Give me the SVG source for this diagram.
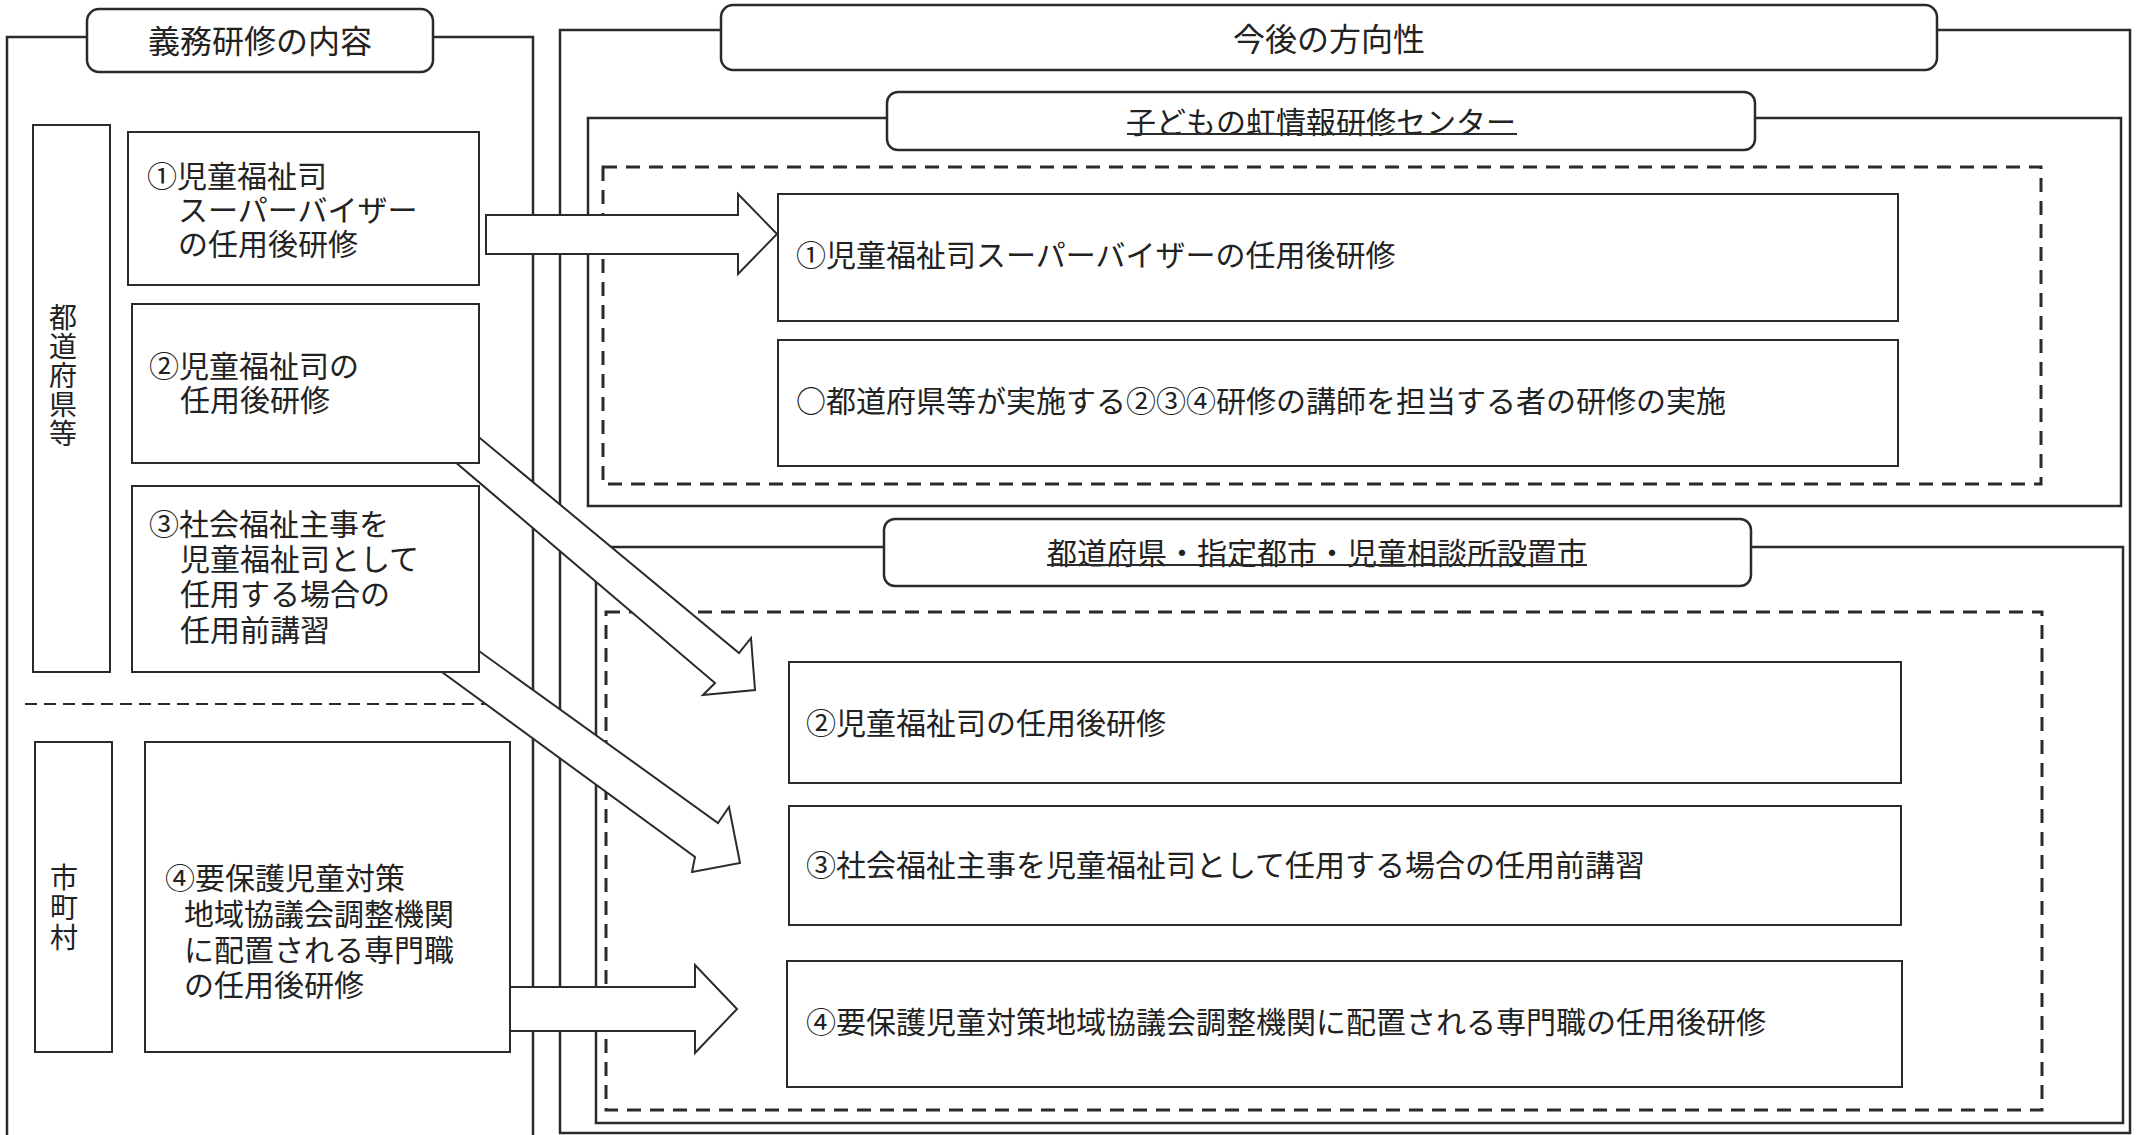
<svg xmlns="http://www.w3.org/2000/svg" width="2139" height="1135" viewBox="0 0 2139 1135">
<style>
.frame{fill:none;stroke:#2b2b2b;stroke-width:2.5}
.box{fill:#ffffff;stroke:#2b2b2b;stroke-width:2}
.tab{fill:#ffffff;stroke:#2b2b2b;stroke-width:2.5}
.dash{fill:none;stroke:#2b2b2b;stroke-width:3;stroke-dasharray:14 9}
.dashl{fill:none;stroke:#2b2b2b;stroke-width:2;stroke-dasharray:12 7}
.arrow{fill:#ffffff;stroke:#2b2b2b;stroke-width:2;stroke-linejoin:miter}
.t{font-family:"Noto Sans CJK JP","Noto Sans CJK SC",sans-serif;font-size:30px;fill:#222222;dominant-baseline:central}
.title{font-family:"Noto Sans CJK JP","Noto Sans CJK SC",sans-serif;font-size:32px;fill:#222222;dominant-baseline:central;text-anchor:middle}
.sub{font-family:"Noto Sans CJK JP","Noto Sans CJK SC",sans-serif;font-size:30px;fill:#222222;dominant-baseline:central;text-anchor:middle}
.v{font-family:"Noto Sans CJK JP","Noto Sans CJK SC",sans-serif;font-size:28px;fill:#222222;writing-mode:vertical-rl;text-orientation:upright}
.ul{stroke:#2b2b2b;stroke-width:2}
</style>
<rect x="0" y="0" width="2139" height="1135" fill="#ffffff"/>

<g id="frames">
  <rect id="left-frame" class="frame" x="7" y="37" width="526" height="1110"/>
  <rect id="right-frame" class="frame" x="560" y="30" width="1570" height="1103"/>
  <rect id="center-frame" class="frame" x="588" y="118" width="1533" height="388"/>
  <rect id="pref-frame" class="frame" x="596" y="547" width="1527" height="576"/>
  <rect class="dash" x="603" y="167" width="1438" height="317"/>
  <rect class="dash" x="606" y="612" width="1436" height="498"/>
  <line class="dashl" x1="25" y1="704" x2="528" y2="704"/>
</g>

<g id="tab-left">
  <rect class="tab" x="87" y="9" width="346" height="63" rx="12"/>
  <text class="title" x="260" y="39">義務研修の内容</text>
</g>
<g id="tab-right">
  <rect class="tab" x="721" y="5" width="1216" height="65" rx="12"/>
  <text class="title" x="1329" y="37">今後の方向性</text>
</g>
<g id="tab-center">
  <rect class="tab" x="887" y="92" width="868" height="58" rx="11"/>
  <text class="sub" x="1321" y="120">子どもの虹情報研修センター</text>
  <line class="ul" x1="1127" y1="134" x2="1517" y2="134"/>
</g>
<g id="tab-pref">
  <rect class="tab" x="884" y="519" width="867" height="67" rx="11"/>
  <text class="sub" x="1317" y="551">都道府県・指定都市・児童相談所設置市</text>
  <line class="ul" x1="1047" y1="565" x2="1587" y2="565"/>
</g>

<g id="connectors">
  <polygon id="arrow1" class="arrow" points="486,215 738,215 738,194 777,234 738,274 738,254 486,254"/>
  <polygon id="arrow2" class="arrow" points="440,405 739,653 751,638 755,690 703,695 715,683 420,432"/>
  <polygon id="arrow3" class="arrow" points="440,623 718,823 729,807 740,863 692,872 695,857 420,656"/>
  <polygon id="arrow4" class="arrow" points="505,987 695,987 695,965 737,1009 695,1053 695,1031 505,1031"/>
</g>

<g id="col-pref">
  <rect class="box" x="33" y="125" width="77" height="547"/>
  <text class="v" x="63" y="303" letter-spacing="1.2">都道府県等</text>
</g>
<g id="col-city">
  <rect class="box" x="35" y="742" width="77" height="310"/>
  <text class="v" x="64" y="863" letter-spacing="2">市町村</text>
</g>

<g id="left-1">
  <rect class="box" x="128" y="132" width="351" height="153"/>
  <text class="t" x="147" y="174">①児童福祉司</text>
  <text class="t" x="178" y="208">スーパーバイザー</text>
  <text class="t" x="178" y="242">の任用後研修</text>
</g>
<g id="left-2">
  <rect class="box" x="132" y="304" width="347" height="159"/>
  <text class="t" x="149" y="364">②児童福祉司の</text>
  <text class="t" x="180" y="398">任用後研修</text>
</g>
<g id="left-3">
  <rect class="box" x="132" y="486" width="347" height="186"/>
  <text class="t" x="149" y="522">③社会福祉主事を</text>
  <text class="t" x="180" y="557">児童福祉司として</text>
  <text class="t" x="180" y="592">任用する場合の</text>
  <text class="t" x="180" y="628">任用前講習</text>
</g>
<g id="left-4">
  <rect class="box" x="145" y="742" width="365" height="310"/>
  <text class="t" x="165" y="876">④要保護児童対策</text>
  <text class="t" x="184" y="912">地域協議会調整機関</text>
  <text class="t" x="184" y="948">に配置される専門職</text>
  <text class="t" x="184" y="983">の任用後研修</text>
</g>

<g id="right-1">
  <rect class="box" x="778" y="194" width="1120" height="127"/>
  <text class="t" x="796" y="253">①児童福祉司スーパーバイザーの任用後研修</text>
</g>
<g id="right-0">
  <rect class="box" x="778" y="340" width="1120" height="126"/>
  <text class="t" x="796" y="399">○都道府県等が実施する②③④研修の講師を担当する者の研修の実施</text>
</g>
<g id="right-2">
  <rect class="box" x="789" y="662" width="1112" height="121"/>
  <text class="t" x="806" y="721">②児童福祉司の任用後研修</text>
</g>
<g id="right-3">
  <rect class="box" x="789" y="806" width="1112" height="119"/>
  <text class="t" x="806" y="863">③社会福祉主事を児童福祉司として任用する場合の任用前講習</text>
</g>
<g id="right-4">
  <rect class="box" x="787" y="961" width="1115" height="126"/>
  <text class="t" x="806" y="1020">④要保護児童対策地域協議会調整機関に配置される専門職の任用後研修</text>
</g>
</svg>
